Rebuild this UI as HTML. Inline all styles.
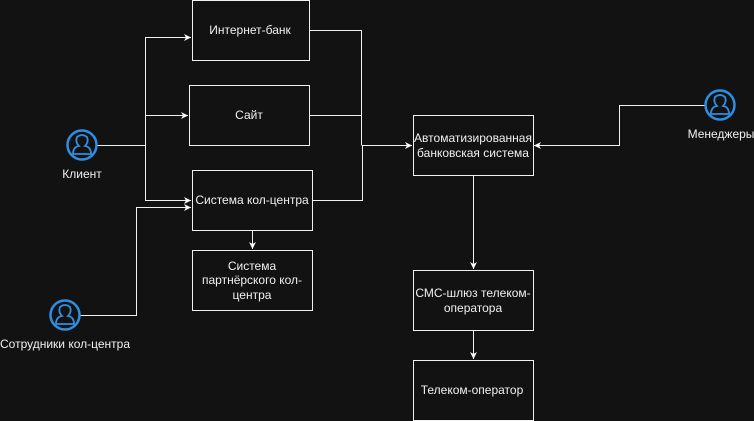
<!DOCTYPE html>
<html><head><meta charset="utf-8"><style>
html,body{margin:0;padding:0;background:#121212;}
svg{display:block}
text{font-family:"Liberation Sans",sans-serif;font-size:12px;fill:#f0f0f0;text-anchor:middle}
</style></head><body>
<svg width="754" height="421" viewBox="0 0 754 421" xmlns="http://www.w3.org/2000/svg">
<defs><marker id="a" markerWidth="8" markerHeight="8" refX="7" refY="4" orient="auto" markerUnits="userSpaceOnUse"><path d="M0,0.5 L7,4 L0,7.5 L2,4 Z" fill="#fff"/></marker></defs>
<g fill="none" stroke="#f0f0f0" stroke-width="1">
<rect x="192.5" y="0.5" width="117" height="60"/>
<rect x="189.5" y="85.5" width="120" height="60"/>
<rect x="192.5" y="170.5" width="120" height="60"/>
<rect x="192.5" y="250.5" width="120" height="60"/>
<rect x="413.5" y="115.5" width="120" height="60"/>
<rect x="413.5" y="270.5" width="120" height="60"/>
<rect x="413.5" y="360.5" width="120" height="60"/>
<path d="M97,145.5 H145.5 V37.5 H191" marker-end="url(#a)"/>
<path d="M145.5,145.5 V115.5 H188" marker-end="url(#a)"/>
<path d="M145.5,145.5 V200.5 H191" marker-end="url(#a)"/>
<path d="M80,315.5 H136.5 V207.5 H191" marker-end="url(#a)"/>
<path d="M310,30.5 H361.5 V145.5"/>
<path d="M310,115.5 H361.5"/>
<path d="M313,200.5 H362.5 V145.5 H412" marker-end="url(#a)"/>
<path d="M705,105.5 H619.5 V145.5 H534" marker-end="url(#a)"/>
<path d="M473.5,176 V269" marker-end="url(#a)"/>
<path d="M473.5,331 V359" marker-end="url(#a)"/>
<path d="M252.5,231 V249" marker-end="url(#a)"/>
</g>
<g fill="none" stroke="#2f8ee0" stroke-width="2.5">
<circle cx="82" cy="145" r="14.5"/>
<path d="M73,154 Q73,147 79,146 Q75,142 77,137 Q82,133 87,137 Q89,142 85,146 Q91,147 91,154 Z" stroke-width="1.8"/>
<circle cx="65" cy="315" r="14.5"/>
<path d="M56,324 Q56,317 62,316 Q58,312 60,307 Q65,303 70,307 Q72,312 68,316 Q74,317 74,324 Z" stroke-width="1.8"/>
<circle cx="720" cy="105" r="14.5"/>
<path d="M711,114 Q711,107 717,106 Q713,102 715,97 Q720,93 725,97 Q727,102 723,106 Q729,107 729,114 Z" stroke-width="1.8"/>
</g>
<text x="250" y="34">Интернет-банк</text>
<text x="249" y="119">Сайт</text>
<text x="252" y="204">Система кол-центра</text>
<text x="252" y="270">Система</text>
<text x="252" y="284">партнёрского кол-</text>
<text x="252" y="299">центра</text>
<text x="473" y="142">Автоматизированная</text>
<text x="473" y="157">банковская система</text>
<text x="473" y="297">СМС-шлюз телеком-</text>
<text x="473" y="312">оператора</text>
<text x="472" y="394">Телеком-оператор</text>
<text x="82" y="178">Клиент</text>
<text x="65" y="348">Сотрудники кол-центра</text>
<text x="721" y="138">Менеджеры</text>
</svg>
</body></html>
